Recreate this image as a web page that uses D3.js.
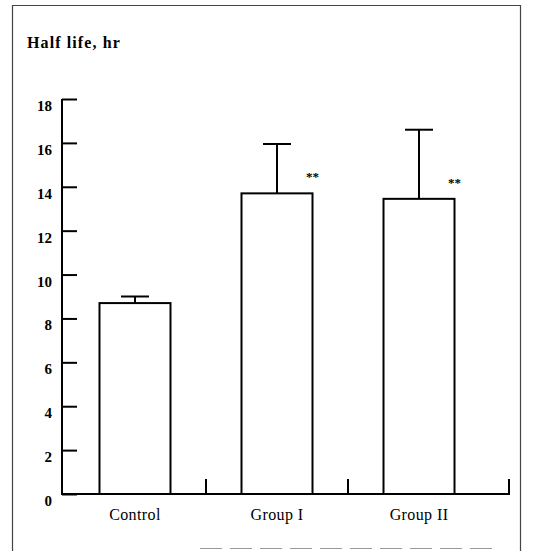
<!DOCTYPE html>
<html>
<head>
<meta charset="utf-8">
<script src="https://cdn.jsdelivr.net/npm/d3@7"></script>
<style>
  body { margin: 0; background: #fff; }
  svg { display: block; }
</style>
</head>
<body>
<svg class="chart"></svg>
<script>
// DATA ////////////////////////////////////////
const groups = ["Control", "Group I", "Group II"];
const halfLife = [8.7, 13.7, 13.45];
const sd = [0.3, 2.25, 3.15];
const stars = ["", "**", "**"];
const yTicks = [0, 2, 4, 6, 8, 10, 12, 14, 16, 18];

// DEFINITIONS /////////////////////////////////
const W = 533, H = 551;
const svg = d3.select(".chart").attr("width", W).attr("height", H);

const x = d3.scaleBand()
  .domain(groups)
  .range([62, 492])
  .paddingInner(0.5)
  .paddingOuter(0.264);

const y = d3.scaleLinear().domain([0, 18]).range([494, 99]);

// FRAME ///////////////////////////////////////
const frame = svg.append("g").attr("stroke", "#444").attr("fill", "none");
frame.append("path").attr("d", "M12.5,551V5.5H520.5V551").attr("stroke-width", 1.2);
frame.append("line")
  .attr("x1", 200).attr("x2", 500).attr("y1", 548.5).attr("y2", 548.5)
  .attr("stroke", "#999").attr("stroke-dasharray", "22,8");

// TITLE ///////////////////////////////////////
svg.append("text")
  .attr("x", 27).attr("y", 48)
  .style("font-family", "Liberation Serif")
  .style("font-weight", "bold")
  .style("font-size", "16px")
  .style("letter-spacing", "1.1px")
  .text("Half life, hr");

// Y AXIS //////////////////////////////////////
const yAxis = svg.append("g")
  .attr("transform", "translate(62,0)")
  .call(d3.axisRight(y).tickValues(yTicks).tickSize(15).tickFormat(""));
yAxis.select(".domain").attr("d", `M0,${y(18)}V${y(0)}`).attr("stroke-width", 2);
yAxis.selectAll(".tick line").attr("stroke-width", 2);

svg.append("g").selectAll("text")
  .data(yTicks)
  .join("text")
  .attr("x", 52).attr("y", (d) => y(d) + 12)
  .attr("text-anchor", "end")
  .style("font-family", "Liberation Serif")
  .style("font-weight", "bold")
  .style("font-size", "15px")
  .text((d) => d);

// X AXIS //////////////////////////////////////
const step = x.step();
const xEnd = x.range()[1] + 17;
const sepX = (d, i) =>
  i < groups.length - 1 ? x(d) + x.bandwidth() + (step - x.bandwidth()) / 2 : xEnd;
const gx = svg.append("g").attr("stroke", "#000").attr("stroke-width", 2);
gx.append("line")
  .attr("x1", 61).attr("x2", xEnd + 1)
  .attr("y1", y(0)).attr("y2", y(0));
gx.selectAll(".sep")
  .data(groups)
  .join("line")
  .attr("class", "sep")
  .attr("x1", sepX)
  .attr("x2", sepX)
  .attr("y1", y(0)).attr("y2", y(0) - 15);

svg.append("g").selectAll("text")
  .data(groups)
  .join("text")
  .attr("x", (d) => x(d) + x.bandwidth() / 2)
  .attr("y", 520)
  .attr("text-anchor", "middle")
  .style("font-family", "Liberation Serif")
  .style("font-size", "16px")
  .style("letter-spacing", "0.4px")
  .text((d) => d);

// BARS ////////////////////////////////////////
const data = groups.map((g, i) => ({ g, v: halfLife[i], e: sd[i], s: stars[i] }));

const barG = svg.append("g").selectAll("g")
  .data(data)
  .join("g");

// error bars (upper half only)
barG.append("line")
  .attr("x1", (d) => x(d.g) + x.bandwidth() / 2)
  .attr("x2", (d) => x(d.g) + x.bandwidth() / 2)
  .attr("y1", (d) => y(d.v))
  .attr("y2", (d) => y(d.v + d.e))
  .attr("stroke", "#000").attr("stroke-width", 2);
barG.append("line")
  .attr("x1", (d) => x(d.g) + x.bandwidth() / 2 - 14)
  .attr("x2", (d) => x(d.g) + x.bandwidth() / 2 + 14)
  .attr("y1", (d) => y(d.v + d.e))
  .attr("y2", (d) => y(d.v + d.e))
  .attr("stroke", "#000").attr("stroke-width", 2);

barG.append("rect")
  .attr("x", (d) => x(d.g))
  .attr("y", (d) => y(d.v))
  .attr("width", x.bandwidth())
  .attr("height", (d) => y(0) - y(d.v))
  .attr("fill", "#fff")
  .attr("stroke", "#000")
  .attr("stroke-width", 2);

barG.append("text")
  .attr("x", (d) => x(d.g) + x.bandwidth())
  .attr("y", (d) => y(d.v) - 12)
  .attr("text-anchor", "middle")
  .style("font-family", "Liberation Serif")
  .style("font-weight", "bold")
  .style("font-size", "13px")
  .text((d) => d.s);
</script>
</body>
</html>
